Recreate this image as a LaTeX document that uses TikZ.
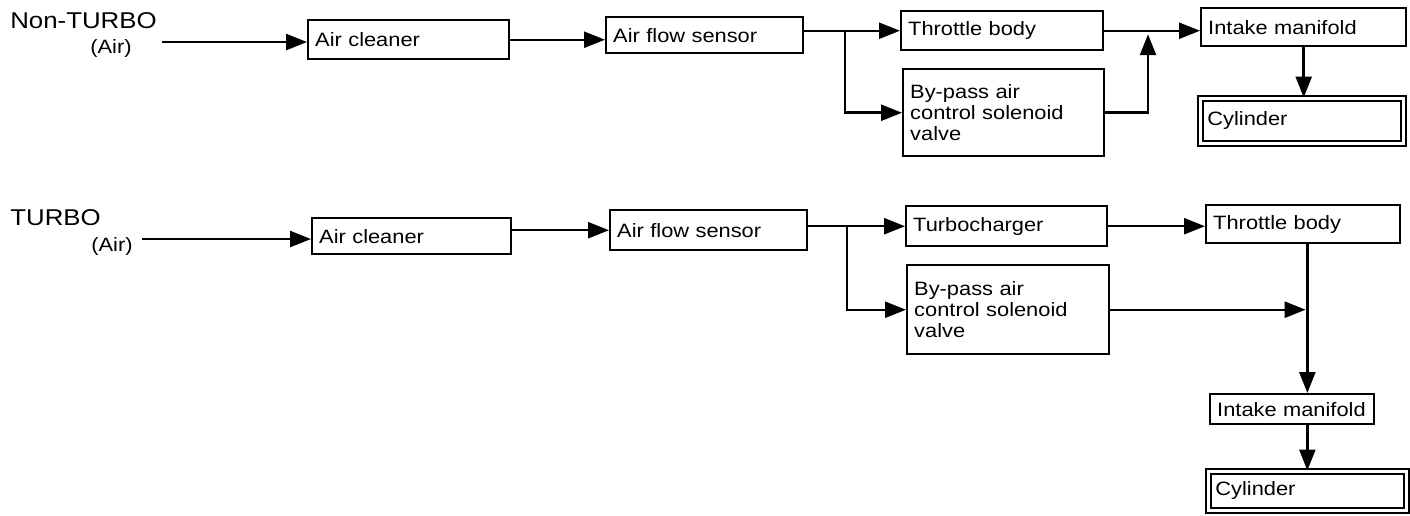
\documentclass[tikz,border=0pt]{standalone}
\usepackage{fontspec}
\setmainfont{Liberation Sans}[FakeStretch=1.13]
\usepackage{tikz}
\usetikzlibrary{arrows.meta}

\begin{document}
\begin{tikzpicture}[x=0.02cm,y=-0.02cm,
    box/.style={draw, line width=1.4pt, anchor=north west, inner xsep=0.14cm,
                inner ysep=0pt, align=left, text width=#1,
                font=\fontsize{11}{12}\selectfont},
    cylbox/.style={box=#1, double, double distance=0.07cm, line width=1pt},
    arr/.style={-{Triangle[length=0.42cm, width=0.32cm]}, line width=1.4pt},
    lbl/.style={inner sep=0pt, font=\fontsize{13}{15}\selectfont}]

  \useasboundingbox (0,0) rectangle (1410,515);

  % ================= row 1: Non-TURBO =================

  \node[lbl, anchor=base west] (nturbo) at (10,28) {Non-TURBO};
  \node[lbl, font=\fontsize{11}{12}\selectfont] (air1) at (111,48) {(Air)};
  \coordinate (in1) at (162,42);

  \node[box=3.74cm, minimum height=0.78cm] (ac1) at (307,19) {Air cleaner};
  \node[box=3.66cm, minimum height=0.72cm] (afs1) at (605,16) {Air flow sensor};
  \node[box=3.76cm, minimum height=0.78cm] (tb1) at (900,10) {Throttle body};
  \node[box=3.74cm, minimum height=1.74cm] (bp1) at (902,68)
    {By-pass air\\control solenoid\\valve};
  \node[box=3.82cm, minimum height=0.76cm] (im1) at (1200,7) {Intake manifold};
  \node[cylbox=3.78cm, minimum height=0.90cm] (cyl1) at (1199.5,97.5) {Cylinder};

  \coordinate (j1) at (845,0);
  \coordinate (m1) at (1148,0);

  \draw[arr] (in1) -- (in1 -| ac1.west);
  \draw[arr] (ac1.east) -- (ac1.east -| afs1.west);
  \draw[arr] (afs1.east |- tb1.west) -- (tb1.west);
  \draw[arr] (j1 |- tb1.west) |- (bp1.west);
  \draw[arr] (tb1.east) -- (tb1.east -| im1.west);
  \draw[arr, shorten >=2pt] (bp1.east) -| (m1 |- tb1.east);
  \draw[arr] (im1.south) -- (im1.south |- cyl1.north);

  % ================= row 2: TURBO =================

  \node[lbl, anchor=base west] (turbo) at (10,225) {TURBO};
  \node[lbl, font=\fontsize{11}{12}\selectfont] (air2) at (112,246) {(Air)};
  \coordinate (in2) at (142,239);

  \node[box=3.70cm, minimum height=0.72cm] (ac2) at (311,217) {Air cleaner};
  \node[box=3.66cm, minimum height=0.80cm] (afs2) at (609,209) {Air flow sensor};
  \node[box=3.74cm, minimum height=0.80cm] (tc2) at (905,205) {Turbocharger};
  \node[box=3.76cm, minimum height=1.78cm] (bp2) at (906,264)
    {By-pass air\\control solenoid\\valve};
  \node[box=3.60cm, minimum height=0.76cm] (tb2) at (1205,204) {Throttle body};
  \node[box=3.00cm, minimum height=0.60cm] (im2) at (1209,393) {Intake manifold};
  \node[cylbox=3.68cm, minimum height=0.78cm] (cyl2) at (1207.5,470.5) {Cylinder};

  \coordinate (j2) at (847,0);

  \draw[arr] (in2) -- (in2 -| ac2.west);
  \draw[arr] (ac2.east |- afs2.west) -- (afs2.west);
  \draw[arr] (afs2.east |- tc2.west) -- (tc2.west);
  \draw[arr] (j2 |- tc2.west) |- (bp2.west);
  \draw[arr] (tc2.east) -- (tc2.east -| tb2.west);
  \draw[arr] (tb2.south -| cyl2.north) -- (im2.north -| cyl2.north);
  \draw[arr, shorten >=1pt] (bp2.east) -- (bp2.east -| cyl2.north);
  \draw[arr] (im2.south -| cyl2.north) -- (cyl2.north);
\end{tikzpicture}
\end{document}
